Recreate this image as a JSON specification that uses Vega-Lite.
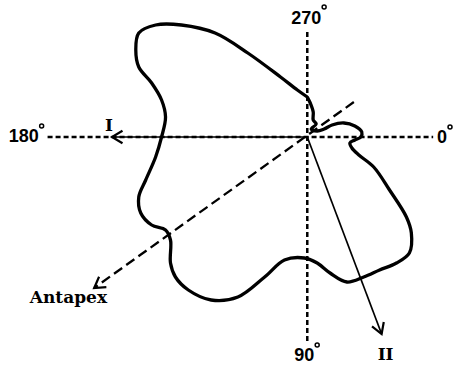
{
  "$schema": "https://vega.github.io/schema/vega-lite/v6.json",
  "width": 455,
  "height": 370,
  "autosize": {"type": "fit", "contains": "padding"},
  "padding": 0,
  "background": "white",
  "config": {"view": {"stroke": null}},
  "datasets": {
    "curve": [
      {"i": 1, "x": 0, "y": -40},
      {"i": 2, "x": -10, "y": -47},
      {"i": 3, "x": -27, "y": -60},
      {"i": 4, "x": -60, "y": -84},
      {"i": 5, "x": -93, "y": -104},
      {"i": 6, "x": -127, "y": -112},
      {"i": 7, "x": -153, "y": -112},
      {"i": 8, "x": -170, "y": -104},
      {"i": 9, "x": -173, "y": -87},
      {"i": 10, "x": -170, "y": -70},
      {"i": 11, "x": -157, "y": -54},
      {"i": 12, "x": -147, "y": -37},
      {"i": 13, "x": -143, "y": -20},
      {"i": 14, "x": -147, "y": 0},
      {"i": 15, "x": -153, "y": 20},
      {"i": 16, "x": -163, "y": 43},
      {"i": 17, "x": -170, "y": 60},
      {"i": 18, "x": -168, "y": 76},
      {"i": 19, "x": -157, "y": 88},
      {"i": 20, "x": -143, "y": 93},
      {"i": 21, "x": -138, "y": 103},
      {"i": 22, "x": -138, "y": 126},
      {"i": 23, "x": -133, "y": 140},
      {"i": 24, "x": -120, "y": 153},
      {"i": 25, "x": -97, "y": 163},
      {"i": 26, "x": -70, "y": 160},
      {"i": 27, "x": -43, "y": 140},
      {"i": 28, "x": -23, "y": 123},
      {"i": 29, "x": -3, "y": 121},
      {"i": 30, "x": 10, "y": 126},
      {"i": 31, "x": 23, "y": 136},
      {"i": 32, "x": 40, "y": 145},
      {"i": 33, "x": 57, "y": 140},
      {"i": 34, "x": 73, "y": 133},
      {"i": 35, "x": 90, "y": 126},
      {"i": 36, "x": 103, "y": 116},
      {"i": 37, "x": 105, "y": 96},
      {"i": 38, "x": 100, "y": 80},
      {"i": 39, "x": 83, "y": 53},
      {"i": 40, "x": 67, "y": 30},
      {"i": 41, "x": 52, "y": 18},
      {"i": 42, "x": 45, "y": 11},
      {"i": 43, "x": 43, "y": 6},
      {"i": 44, "x": 48, "y": 3},
      {"i": 45, "x": 54, "y": 0},
      {"i": 46, "x": 55, "y": -5},
      {"i": 47, "x": 48, "y": -11},
      {"i": 48, "x": 37, "y": -14},
      {"i": 49, "x": 25, "y": -12},
      {"i": 50, "x": 17, "y": -8},
      {"i": 51, "x": 10, "y": -6},
      {"i": 52, "x": 4, "y": -8},
      {"i": 53, "x": 9, "y": -13},
      {"i": 54, "x": 6, "y": -17},
      {"i": 55, "x": 6, "y": -25},
      {"i": 56, "x": 3, "y": -34},
      {"i": 57, "x": 0, "y": -40}
    ],
    "axesDashed": [
      {"name": "horizontal", "x": -262, "y": 0, "x2": 127, "y2": 0},
      {"name": "vertical", "x": 0, "y": -105, "x2": 0, "y2": 206}
    ],
    "antapexDashed": [
      {"name": "antapex", "x": 47, "y": -35, "x2": -215, "y2": 151}
    ],
    "arrows": [
      {"name": "I", "x": 0, "y": 0, "x2": -197, "y2": 0},
      {"name": "II", "x": 0, "y": 0, "x2": 75, "y2": 197}
    ],
    "heads": [
      {"name": "I", "x": -197, "y": 0, "dir": 180},
      {"name": "II", "x": 75, "y": 197, "dir": 69.2},
      {"name": "Antapex", "x": -215, "y": 151, "dir": 144.6}
    ],
    "degLabels": [
      {"label": "270", "x": -1, "y": -118},
      {"label": "180", "x": -286, "y": 0},
      {"label": "0", "x": 136, "y": 1},
      {"label": "90", "x": -3, "y": 219}
    ],
    "degSigns": [
      {"x": 17, "y": -130},
      {"x": -268, "y": -11},
      {"x": 144, "y": -10},
      {"x": 10, "y": 208}
    ],
    "nameLabels": [
      {"label": "I", "x": -200, "y": -11},
      {"label": "II", "x": 79, "y": 218},
      {"label": "Antapex", "x": -241, "y": 161}
    ]
  },
  "layer": [
    {
      "data": {"name": "axesDashed"},
      "mark": {"type": "rule", "strokeDash": [5, 3], "strokeWidth": 2.5, "color": "black"},
      "encoding": {
        "x": {"field": "x", "type": "quantitative", "scale": {"domain": [-310, 145], "zero": false, "nice": false}, "axis": null},
        "y": {"field": "y", "type": "quantitative", "scale": {"domain": [-137, 233], "zero": false, "nice": false, "reverse": true}, "axis": null},
        "x2": {"field": "x2"},
        "y2": {"field": "y2"}
      }
    },
    {
      "data": {"name": "antapexDashed"},
      "mark": {"type": "rule", "strokeDash": [10, 5], "strokeWidth": 2.3, "color": "black"},
      "encoding": {
        "x": {"field": "x", "type": "quantitative"},
        "y": {"field": "y", "type": "quantitative"},
        "x2": {"field": "x2"},
        "y2": {"field": "y2"}
      }
    },
    {
      "data": {"name": "arrows"},
      "mark": {"type": "rule", "strokeWidth": 1.7, "color": "black"},
      "encoding": {
        "x": {"field": "x", "type": "quantitative"},
        "y": {"field": "y", "type": "quantitative"},
        "x2": {"field": "x2"},
        "y2": {"field": "y2"}
      }
    },
    {
      "data": {"name": "heads"},
      "mark": {"type": "point", "shape": "M -2 -1.2 L 0 0 L -2 1.2", "filled": false, "strokeWidth": 2.2, "color": "black", "opacity": 1, "size": 110},
      "encoding": {
        "x": {"field": "x", "type": "quantitative"},
        "y": {"field": "y", "type": "quantitative"},
        "angle": {"field": "dir", "type": "quantitative", "scale": null}
      }
    },
    {
      "data": {"name": "curve"},
      "mark": {"type": "line", "interpolate": "catmull-rom", "strokeWidth": 3.3, "color": "black", "strokeJoin": "round"},
      "encoding": {
        "x": {"field": "x", "type": "quantitative"},
        "y": {"field": "y", "type": "quantitative"},
        "order": {"field": "i", "type": "quantitative"}
      }
    },
    {
      "data": {"name": "degLabels"},
      "mark": {"type": "text", "font": "Liberation Sans", "fontWeight": "bold", "fontSize": 18, "align": "center", "baseline": "middle", "color": "black"},
      "encoding": {
        "x": {"field": "x", "type": "quantitative"},
        "y": {"field": "y", "type": "quantitative"},
        "text": {"field": "label"}
      }
    },
    {
      "data": {"name": "degSigns"},
      "mark": {"type": "point", "shape": "circle", "filled": false, "strokeWidth": 1.5, "color": "black", "opacity": 1, "size": 16},
      "encoding": {
        "x": {"field": "x", "type": "quantitative"},
        "y": {"field": "y", "type": "quantitative"}
      }
    },
    {
      "data": {"name": "nameLabels"},
      "mark": {"type": "text", "font": "DejaVu Serif", "fontWeight": "bold", "fontSize": 17, "align": "center", "baseline": "middle", "color": "black"},
      "encoding": {
        "x": {"field": "x", "type": "quantitative"},
        "y": {"field": "y", "type": "quantitative"},
        "text": {"field": "label"}
      }
    }
  ]
}
